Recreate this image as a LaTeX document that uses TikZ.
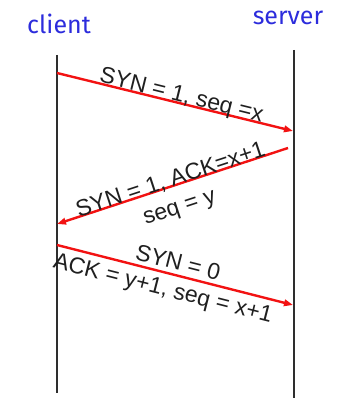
\documentclass[tikz,border=0pt]{standalone}
\usepackage{fontspec}
\setmainfont{Liberation Sans}
\newfontfamily\handfont{Fira Sans}
\usetikzlibrary{arrows.meta,positioning}
\definecolor{msgred}{HTML}{F21212}
\definecolor{hostblue}{HTML}{2C2CDC}
\definecolor{wire}{HTML}{2E2E2E}
\begin{document}
\begin{tikzpicture}[x=1pt,y=-1pt,
  msg/.style={msgred,line width=2.4pt,-{Triangle[length=9pt,width=6.5pt]}},
  lbl/.style={font=\fontsize{23}{26}\selectfont,text=black!88,sloped,inner sep=0pt},
  host/.style={hostblue,font=\handfont\fontsize{25}{28}\selectfont,inner sep=0pt}]
\useasboundingbox (0,0) rectangle (347,398);
\node[host] (client) at (59,24) {client};\node[host] (server) at (288,18) {server};
\coordinate (ctop) at (57,55);\coordinate (cbot) at (57,393);
\coordinate (stop) at (294,50);\coordinate (sbot) at (294,398);
\draw[wire,line width=1.6pt] (ctop)--(cbot);\draw[wire,line width=1.6pt] (stop)--(sbot);
% handshake segments
\coordinate (syna) at (57,73);\coordinate (synb) at (293,131);
\coordinate (acka) at (288,148);\coordinate (ackb) at (57,224);
\coordinate (fina) at (57,245);\coordinate (finb) at (293,305);
\draw[msg] (syna) -- node[lbl,pos=0.52,above=-4.7pt] (m1) {SYN = 1, seq =x} (synb);
\draw[msg] (acka) -- node[lbl,midway,above=-4.7pt] (m2) {SYN = 1, ACK=x+1}
  node[lbl,pos=0.5,below=15pt] (m3) {seq = y} (ackb);
\draw[msg] (fina) -- node[lbl,midway,above=3.8pt] (m4) {SYN = 0}
  node[lbl,pos=0.466,below=5.8pt] (m5) {ACK = y+1, seq = x+1} (finb);
\end{tikzpicture}
\end{document}
